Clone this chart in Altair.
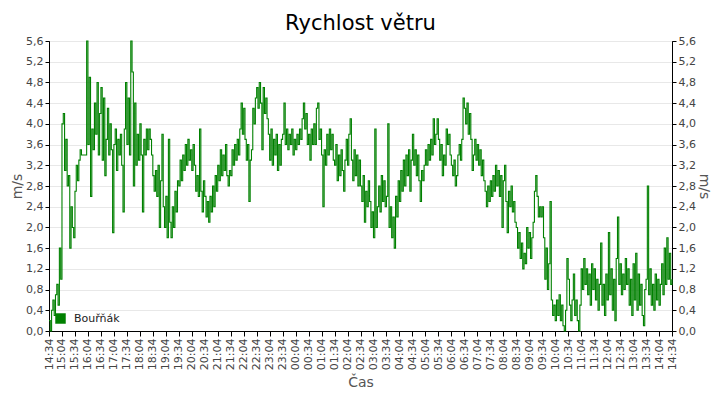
import altair as alt
import pandas as pd

# wind speed [m/s], one reading every 3 minutes, starting 14:34 (each list = one hour)
s1434 = [0.2,0.0,0.4,0.6,0.3,0.7,0.9,0.5,1.6,1.0, 4.0,4.2,3.1,3.7,2.8,3.0,1.6,2.4,2.0,1.8]
s1534 = [2.7,3.2,2.9,3.3,3.5,3.4,3.4,3.4,3.4,5.6, 3.6,4.9,2.6,3.9,3.5,4.4,3.8,4.8,3.4,4.2]
s1634 = [4.7,3.3,4.5,3.0,3.7,4.3,3.4,4.0,3.5,1.9, 3.6,3.9,3.1,3.7,3.4,3.8,3.2,2.3,3.9,4.8]
s1734 = [3.6,4.5,3.4,5.6,5.0,2.8,4.4,3.2,3.8,3.3, 4.0,3.4,2.3,3.7,3.4,3.9,3.5,3.9,3.7,3.4]
s1834 = [3.0,2.7,3.1,2.6,3.2,2.0,2.9,3.8,2.4,2.0, 2.6,1.8,3.7,2.1,1.8,2.4,2.0,2.7,2.3,2.9]
s1934 = [2.8,3.3,2.9,3.4,3.1,3.6,3.2,3.7,3.3,3.5, 3.1,3.6,3.2,2.7,3.0,2.6,3.9,2.7,2.3,2.9]
s2034 = [2.6,2.2,2.5,2.1,2.6,2.3,2.8,2.4,3.0,2.7, 3.2,2.9,3.5,3.0,3.4,3.1,3.6,3.0,2.8,3.1]
s2134 = [3.0,3.5,3.2,3.6,3.3,3.7,3.4,3.9,4.4,3.8, 4.3,3.7,3.3,3.6,2.5,3.3,3.5,4.3,4.0,4.5]
s2234 = [4.7,4.3,4.8,4.4,3.5,4.7,4.2,4.5,4.1,3.8, 3.3,3.9,3.2,3.7,3.4,3.8,3.1,3.6,3.2,3.7]
s2334 = [3.8,4.4,3.6,3.9,3.5,3.8,3.6,3.9,3.4,3.7, 3.5,3.8,3.6,3.9,3.7,4.1,4.4,3.9,4.2,3.6]
s0034 = [3.8,3.3,3.9,3.6,4.0,3.6,4.3,4.4,3.7,3.9, 3.4,2.4,3.5,3.2,3.8,3.4,3.9,3.5,3.8,3.3]
s0134 = [3.2,3.6,2.9,3.4,3.0,3.5,3.1,2.7,3.3,3.7, 3.2,3.8,4.1,3.3,2.9,3.5,3.0,3.4,2.8,3.3]
s0234 = [2.8,2.5,3.0,2.1,2.7,2.4,2.9,2.5,2.0,2.3, 1.8,3.9,2.0,2.4,2.8,2.3,3.0,2.5,2.9,2.4]
s0334 = [2.6,4.0,2.0,2.4,1.8,2.2,1.6,2.6,2.2,2.9, 2.5,3.1,2.7,3.3,2.8,3.4,3.0,3.5,2.7,3.3]
s0434 = [3.8,3.2,3.5,3.0,3.4,2.9,2.5,3.1,2.9,3.2, 3.5,3.2,3.6,3.3,3.7,3.4,4.1,3.6,3.8,4.1]
s0534 = [3.7,3.3,3.6,3.0,3.4,3.2,3.9,3.6,3.8,3.4, 3.2,3.0,3.3,2.8,3.0,3.4,3.6,3.3,3.7,4.5]
s0634 = [4.3,4.0,4.4,3.8,4.2,3.7,3.1,3.4,3.7,3.3, 3.6,3.2,3.5,3.0,3.3,2.9,2.7,2.4,2.8,2.5]
s0734 = [2.9,2.6,3.0,2.7,3.2,2.8,3.1,2.6,3.0,2.0, 2.9,3.2,2.5,1.9,2.7,2.4,2.8,2.3,2.5,2.1]
s0834 = [2.0,1.6,1.9,1.4,1.7,1.2,1.5,1.3,2.0,1.6, 1.9,1.4,1.8,2.1,2.7,3.0,2.6,2.2,2.4,2.2]
s0934 = [2.4,1.8,1.0,1.6,0.8,1.3,2.5,0.6,0.3,0.5, 0.2,0.6,0.3,0.7,0.2,0.5,0.1,0.0,0.4,1.4]
s1034 = [1.0,0.5,0.2,0.6,1.1,0.3,0.6,0.2,0.0,0.5, 1.2,0.8,1.4,0.9,1.2,0.7,1.1,0.5,1.3,0.8]
s1134 = [1.2,0.6,1.0,0.4,0.9,1.7,0.5,0.9,0.3,1.1, 0.6,1.9,0.7,1.2,0.4,1.0,0.2,1.4,2.2,0.9]
s1234 = [1.3,0.7,1.1,0.8,1.4,0.9,1.2,0.5,1.0,0.3, 1.3,0.6,1.5,0.4,1.1,0.5,0.9,0.3,0.1,0.8]
s1334 = [1.0,2.8,0.7,1.2,0.5,0.9,0.4,1.1,0.6,1.0, 0.5,0.9,1.3,0.7,1.6,0.9,1.8,1.0,1.5,0.9]
s_end = [1.0]

series_name = "Bouřňák"
step_minutes = 3

x_tick_labels = [
    "14:34","15:04","15:34","16:04","16:34","17:04","17:34","18:04","18:34","19:04",
    "19:34","20:04","20:34","21:04","21:34","22:04","22:34","23:04","23:34","00:04",
    "00:34","01:04","01:34","02:04","02:34","03:04","03:34","04:04","04:34","05:04",
    "05:34","06:04","06:34","07:04","07:34","08:04","08:34","09:04","09:34","10:04",
    "10:34","11:04","11:34","12:04","12:34","13:04","13:34","14:04","14:34",
]
y_ticks = [0.0,0.4,0.8,1.2,1.6,2.0,2.4,2.8,3.2,3.6,4.0,4.4,4.8,5.2,5.6]

speeds = (s1434 + s1534 + s1634 + s1734 + s1834 + s1934 + s2034 + s2134 + s2234 +
          s2334 + s0034 + s0134 + s0234 + s0334 + s0434 + s0534 + s0634 + s0734 +
          s0834 + s0934 + s1034 + s1134 + s1234 + s1334 + s_end)

df = pd.DataFrame({
    "t": [i * step_minutes for i in range(len(speeds))],
    "v": speeds,
    "series": [series_name] * len(speeds),
})

x_vals = [i * 30 for i in range(len(x_tick_labels))]
label_arr = "[" + ",".join("'" + s + "'" for s in x_tick_labels) + "]"
FONT = "DejaVu Sans"
GREEN = "#008000"

x_enc = alt.X(
    "t:Q",
    scale=alt.Scale(domain=[0, 1440], nice=False, zero=False),
    axis=alt.Axis(
        values=x_vals,
        labelExpr=label_arr + "[round(datum.value/30)]",
        labelAngle=270,
        title="Čas",
        grid=False,
        domainColor="black",
        tickColor="black",
        tickSize=5,
        labelFont=FONT,
        labelFontSize=11,
        labelColor="#444444",
        labelPadding=2,
        titleFont=FONT,
        titleFontSize=14,
        titleFontWeight="normal",
        titleColor="#555555",
        titlePadding=6,
        labelOverlap=False,
    ),
)

y_label_expr = "replace(format(datum.value, '.1f'), '.', ',')"


def y_axis(orient, grid):
    return alt.Axis(
        orient=orient,
        values=y_ticks,
        labelExpr=y_label_expr,
        title="m/s",
        grid=grid,
        gridColor="#e8e8e8",
        domainColor="black",
        tickColor="black",
        tickSize=4,
        labelFont=FONT,
        labelFontSize=11,
        labelColor="#444444",
        labelPadding=2,
        titleFont=FONT,
        titleFontSize=14,
        titleFontWeight="normal",
        titleColor="#555555",
        titlePadding=1,
    )


y_scale = alt.Scale(domain=[0, 5.6], nice=False, zero=True)

line = alt.Chart(df).mark_line(interpolate="step-after", strokeWidth=1.1).encode(
    x=x_enc,
    y=alt.Y("v:Q", scale=y_scale, axis=y_axis("left", True)),
    color=alt.Color(
        "series:N",
        scale=alt.Scale(range=[GREEN]),
        legend=alt.Legend(
            title=None,
            orient="none",
            legendX=6,
            legendY=272,
            symbolType="square",
            symbolSize=110,
            symbolFillColor=GREEN,
            symbolStrokeColor=GREEN,
            symbolStrokeWidth=0,
            symbolOpacity=1,
            labelFont=FONT,
            labelFontSize=11,
            labelColor="#222222",
            labelOffset=8,
        ),
    ),
)

right = alt.Chart(df).mark_line(strokeOpacity=0).encode(
    x=x_enc,
    y=alt.Y("v:Q", scale=y_scale, axis=y_axis("right", False)),
)

chart = (
    alt.layer(line, right)
    .resolve_scale(y="independent")
    .properties(
        width=623,
        height=290,
        title=alt.TitleParams(
            "Rychlost větru",
            font=FONT,
            fontSize=21,
            fontWeight="normal",
            color="#000000",
            anchor="middle",
            offset=1,
        ),
        autosize=alt.AutoSizeParams(type="none"),
        padding={"left": 41, "top": 33, "right": 40, "bottom": 70},
    )
    .configure_view(stroke="black", strokeWidth=1)
)

chart.save("out.html", embed_options={"renderer": "svg", "actions": False})
